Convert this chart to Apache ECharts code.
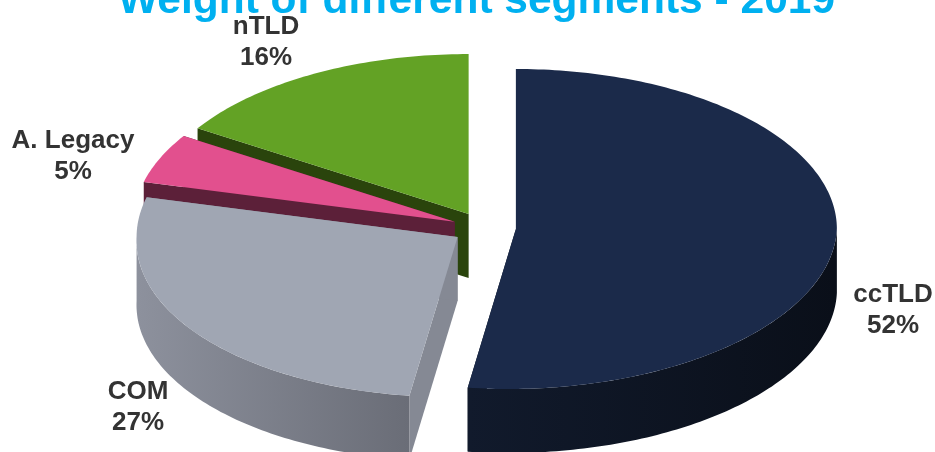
<!DOCTYPE html>
<html>
<head>
<meta charset="utf-8">
<style>html,body{margin:0;padding:0;background:#fff}#chart{width:935px;height:452px}</style>
<script src="https://cdn.jsdelivr.net/npm/echarts@6/dist/echarts.min.js"></script>
</head>
<body>
<div id="chart"></div>
<script>
// Share of each segment, clockwise from twelve o'clock.
const segments = ['ccTLD', 'COM', 'A. Legacy', 'nTLD'];
const shares = [52, 27, 5, 16];

// Back-to-front painting order of the slices (index into segments).
const paintRank = [3, 2, 1, 0];

const topColors = ['#1b2a4a', '#a0a6b3', '#e2508e', '#63a225'];
const cutColors = ['#0c1320', '#858994', '#5c2039', '#2a440c'];
const rimGradients = [['#111a2c', '#0a0f19'], ['#8d919d', '#6a6d77'], ['#5c2039', '#5c2039'], ['#2a440c', '#2a440c']];
const labelCenters = [[893, 310], [138, 407], [73, 156], [266, 42]];

// Projection of the tilted disc.
const disc = { cx: 484, cy: 228, rx: 321, ry: 160, depth: 64, explode: 0.0995, lean: 8 };
const DEG = Math.PI / 180;

function toPoint(apex, deg, drop) {
  const u = Math.sin(deg * DEG), v = Math.cos(deg * DEG);
  return [
    apex[0] + disc.rx * u - disc.lean * Math.max(0, -v),
    apex[1] - disc.ry * v + (drop || 0)
  ];
}

function arc(apex, from, to, drop) {
  const pts = [];
  const steps = Math.max(2, Math.ceil(Math.abs(to - from)));
  for (let i = 0; i <= steps; i++) pts.push(toPoint(apex, from + (to - from) * i / steps, drop));
  return pts;
}

const total = shares.reduce((a, b) => a + b, 0);
const startAngles = [];
shares.reduce((acc, s, i) => { startAngles[i] = acc; return acc + s / total * 360; }, 0);

function renderSlice(params, api) {
  const i = api.value(0);
  const from = startAngles[i];
  const to = from + shares[i] / total * 360;
  const mid = (from + to) / 2 * DEG;
  const apex = [
    disc.cx + disc.explode * disc.rx * Math.sin(mid),
    disc.cy - disc.explode * disc.ry * Math.cos(mid)
  ];
  const z = paintRank.indexOf(i) * 10 + 1;
  const d = disc.depth;
  const wall = (a, b) => ({
    type: 'polygon', z2: z, silent: true,
    shape: { points: [a, b, [b[0], b[1] + d], [a[0], a[1] + d]] },
    style: { fill: cutColors[i] }
  });
  const first = toPoint(apex, from), last = toPoint(apex, to);
  const children = [wall(apex, first), wall(apex, last)];

  // Outer rim: only the part of the arc that faces the viewer.
  const rimFrom = Math.max(from, 90), rimTo = Math.min(to, 270);
  if (rimTo > rimFrom) {
    const upper = arc(apex, rimFrom, rimTo);
    const lower = arc(apex, rimTo, rimFrom, d);
    const grad = rimGradients[i];
    children.push({
      type: 'polygon', z2: z + 1, silent: true,
      shape: { points: upper.concat(lower) },
      style: {
        fill: new echarts.graphic.LinearGradient(0, 0, 1, 0, [
          { offset: 0, color: grad[0] },
          { offset: 1, color: grad[1] }
        ])
      }
    });
  }

  children.push({
    type: 'polygon', z2: z + 2, silent: true,
    shape: { points: [apex].concat(arc(apex, from, to)) },
    style: { fill: topColors[i] }
  });

  children.push({
    type: 'text', z2: 100, silent: true,
    style: {
      text: segments[i] + '\n' + shares[i] + '%',
      x: labelCenters[i][0], y: labelCenters[i][1],
      align: 'center', verticalAlign: 'middle',
      fontFamily: '"Liberation Sans", Arial, sans-serif',
      fontSize: 26, fontWeight: 'bold', lineHeight: 31, fill: '#333333'
    }
  });
  return { type: 'group', children };
}

const chart = echarts.init(document.getElementById('chart'), null, { renderer: 'canvas' });
chart.setOption({
  animation: false,
  backgroundColor: '#ffffff',
  title: {
    text: 'Weight of different segments - 2019',
    left: 471.5, top: -25, textAlign: 'center',
    textStyle: {
      fontFamily: '"Liberation Sans", Arial, sans-serif',
      fontSize: 42.5, fontWeight: 'bold', color: '#00b0f0'
    }
  },
  series: [{
    type: 'custom',
    coordinateSystem: 'none',
    renderItem: renderSlice,
    data: segments.map((_, i) => [i])
  }]
});
</script>
</body>
</html>
